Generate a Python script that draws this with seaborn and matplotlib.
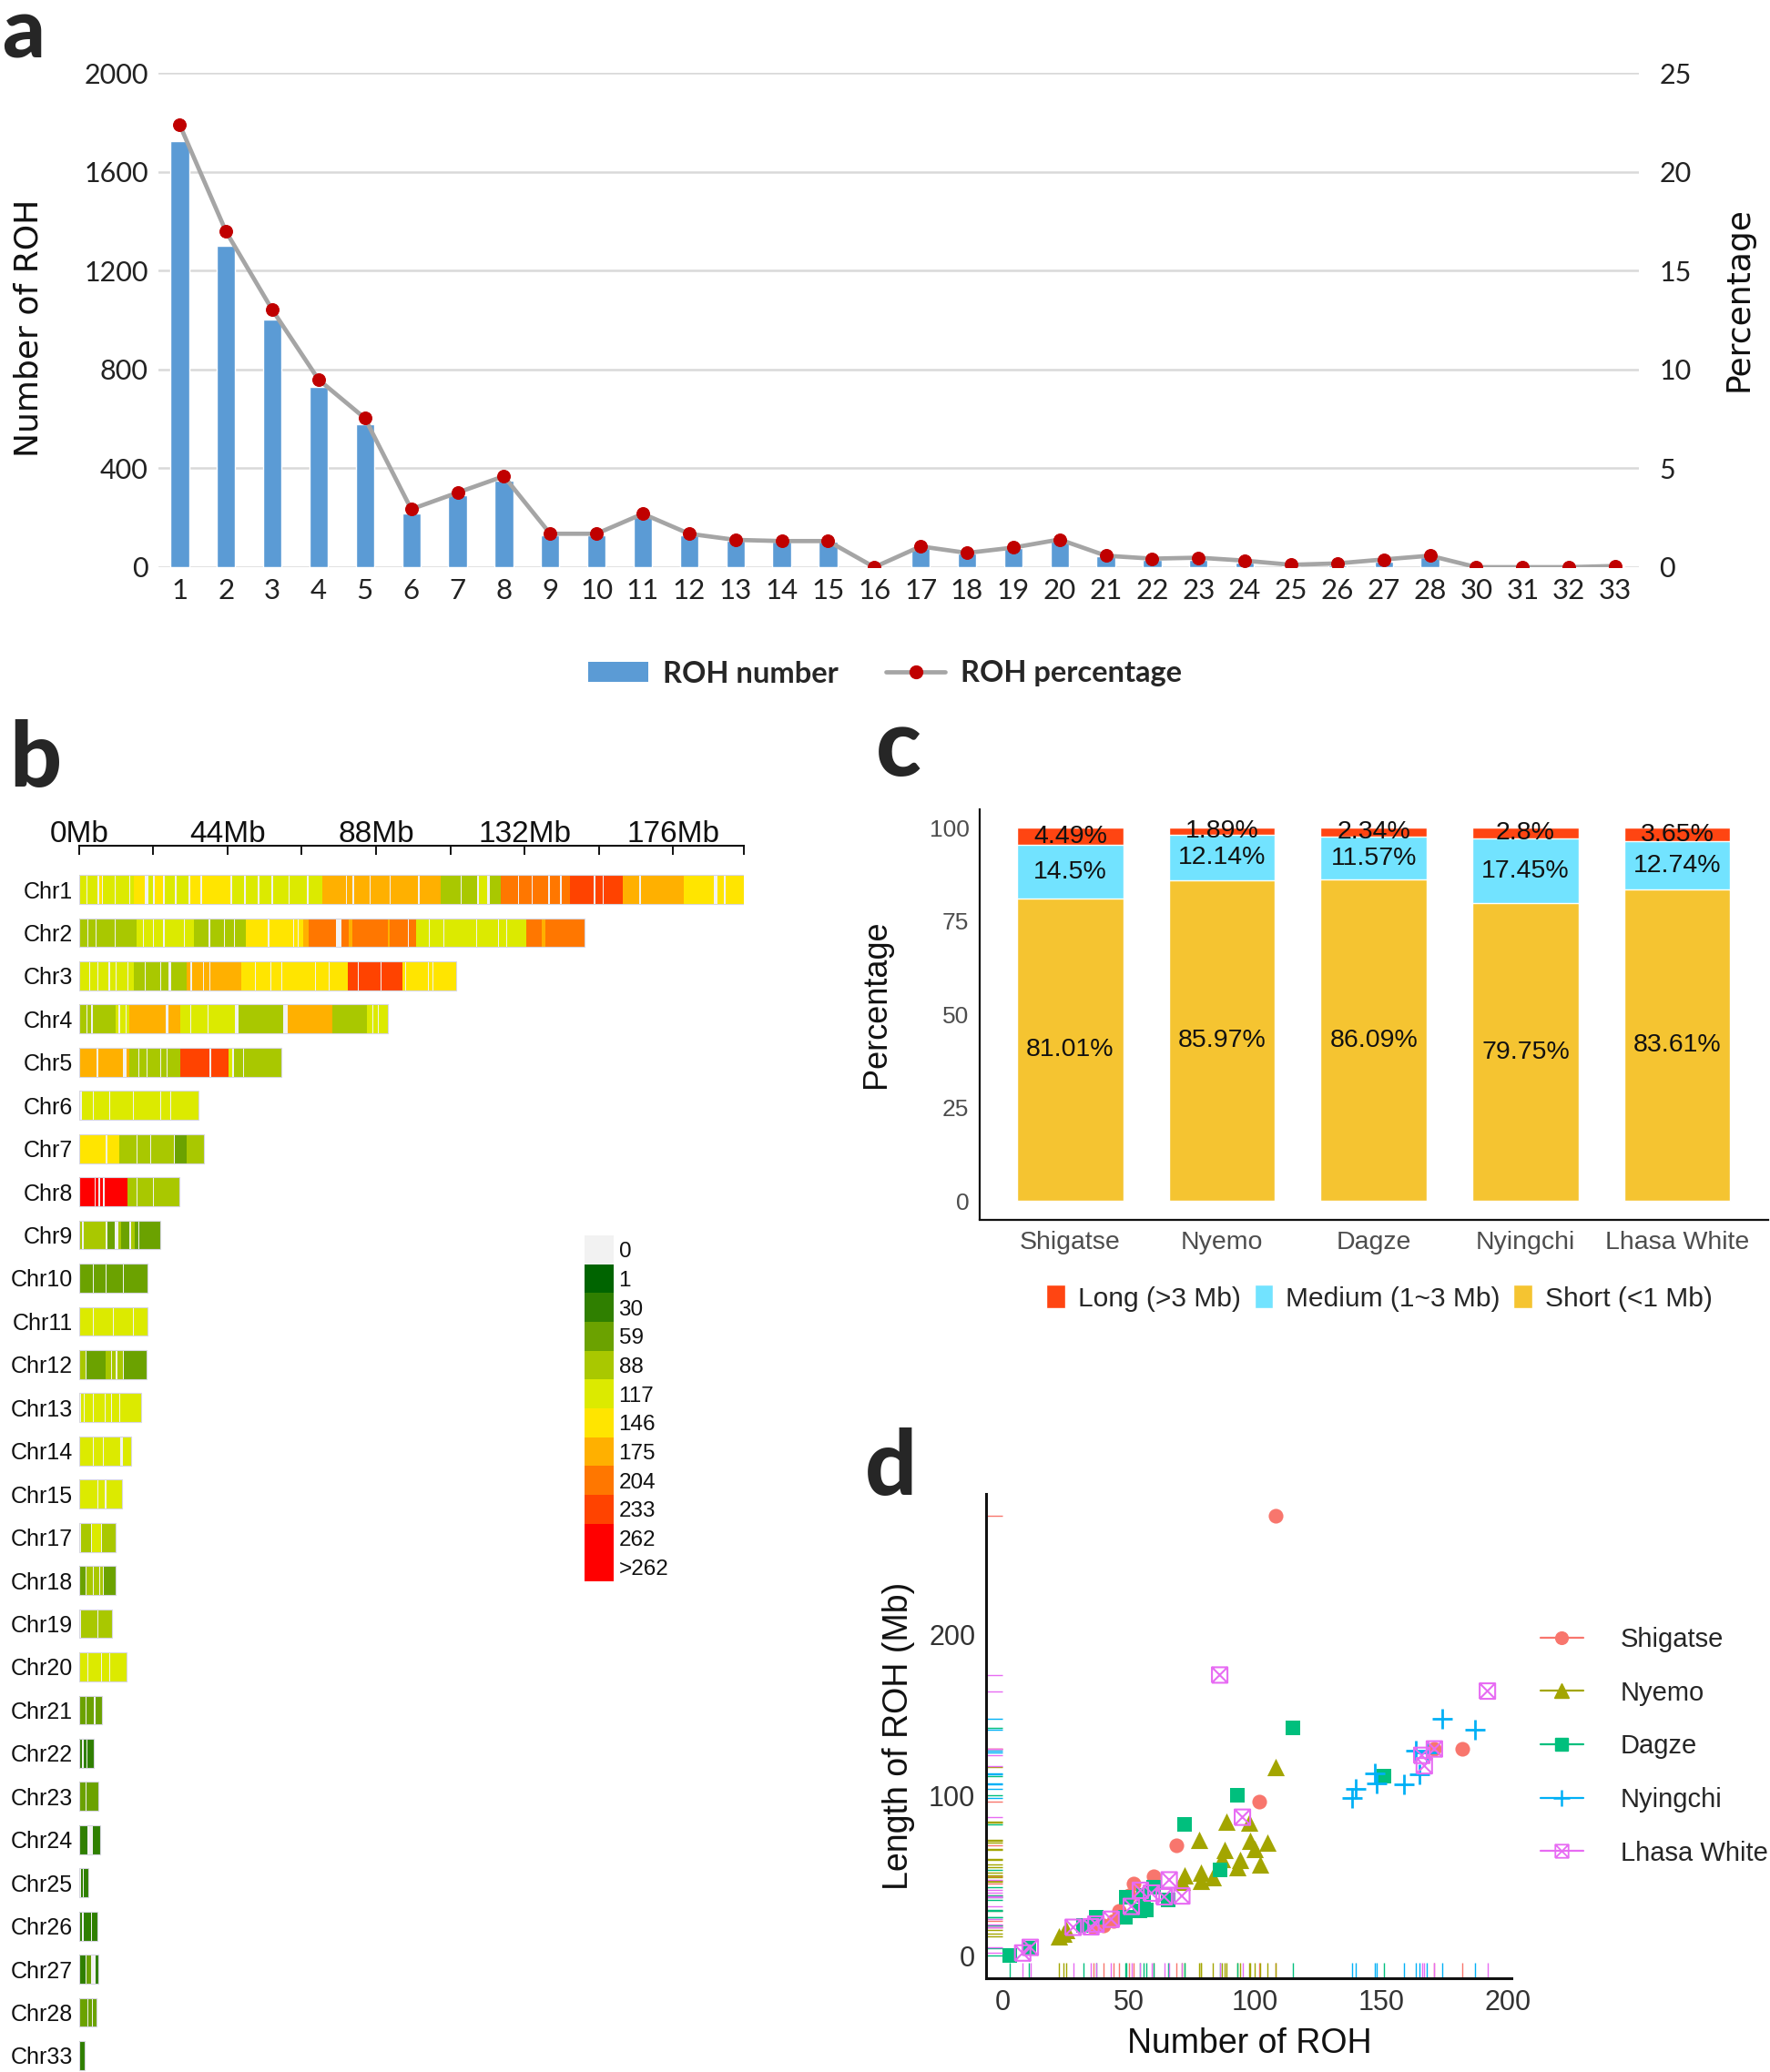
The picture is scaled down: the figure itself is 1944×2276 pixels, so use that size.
import numpy as np
import pandas as pd
import matplotlib
matplotlib.use("Agg")
import matplotlib.pyplot as plt
import seaborn as sns
from matplotlib.colors import ListedColormap
from matplotlib.patches import Patch
from matplotlib.lines import Line2D
from matplotlib.path import Path

# ---------------- data: panel a ----------------
roh_chr = [str(i) for i in range(1, 29)] + ["30", "31", "32", "33"]
roh_count = [1723, 1302, 1002, 730, 580, 219, 292, 350, 130, 130, 203, 130, 107, 102, 102, 0,
             79, 55, 76, 110, 43, 30, 30, 18, 5, 8, 22, 41, 0, 0, 0, 3]
roh_pct = [22.37, 16.97, 13.01, 9.48, 7.53, 2.93, 3.77, 4.60, 1.69, 1.69, 2.70, 1.69, 1.38, 1.32,
           1.32, 0.0, 1.05, 0.72, 0.99, 1.40, 0.58, 0.43, 0.48, 0.33, 0.12, 0.19, 0.39, 0.58,
           0.0, 0.0, 0.0, 0.06]
count_ticks = [0, 400, 800, 1200, 1600, 2000]
pct_ticks = [0, 5, 10, 15, 20, 25]

# ---------------- data: panel b ----------------
chr_names = ["Chr%d" % i for i in list(range(1, 16)) + list(range(17, 29)) + [33]]
chr_len = [197, 149.7, 111.8, 91.5, 60, 35.5, 37, 29.8, 24, 20.3, 20.3, 19.9, 18.3, 15.4, 12.7,
           10.9, 10.9, 9.9, 14.1, 6.9, 4.5, 5.8, 6.2, 2.9, 5.4, 5.7, 5.1, 1.6]
# runs of (end Mb, density level); level 0 = no SNP ... 11 = >262
chr1_runs = [(2.2,5),(2.6,0),(5.5,5),(5.9,0),(6.8,6),(7.2,0),(10.5,5),(10.9,0),(14.8,5),(15.3,0),(16.2,5),
             (19.6,6),(20.6,0),(22.0,5),(22.4,0),(24.8,6),(25.3,0),(28.5,5),(28.9,0),(32.5,5),(32.9,0),
             (36.0,6),(36.4,0),(41.0,6),(44.8,6),(45.3,0),(49.0,5),(49.4,0),(53.0,5),(53.5,0),(57.0,5),
             (57.4,0),(62.0,5),(62.4,0),(67.5,5),(67.9,0),(72.0,5),(79.0,7),(79.4,0),(81.0,7),(81.4,0),
             (86.0,7),(86.4,0),(92.0,7),(92.4,0),(100.5,7),(100.9,0),(107.0,7),(113.0,4),(113.4,0),
             (118.0,4),(118.5,0),(121.0,5),(121.8,0),(125.0,4),(130.0,8),(130.4,0),(134.0,8),(134.4,0),
             (139.0,8),(139.4,0),(142.5,8),(142.9,0),(145.5,8),(152.5,9),(153.0,0),(155.0,9),(155.4,0),
             (161.0,9),(166.0,7),(166.4,0),(179.0,7),(188.0,6),(189.0,0),(191.0,6),(191.4,0),(197.0,6)]
chr2_runs = [(2.4,4),(2.8,0),(4.9,4),(5.3,0),(10.6,4),(11.0,0),(17.0,4),(19.0,5),(19.3,0),(22.0,5),(22.3,0),
             (25.0,5),(25.3,0),(31.0,5),(31.3,0),(34.0,5),(38.5,4),(38.8,0),(43.0,4),(43.3,0),(46.0,4),
             (46.3,0),(49.3,4),(56.0,6),(56.3,0),(63.5,6),(63.8,0),(64.8,6),(65.1,0),(66.3,6),(68.0,7),
             (76.2,8),(77.7,0),(80.0,8),(81.0,7),(85.5,8),(91.5,8),(92.0,7),(97.3,8),(97.8,0),(99.9,8),
             (103.5,5),(103.8,0),(108.0,5),(108.3,0),(117.5,5),(117.8,0),(124.0,5),(124.3,0),(126.5,5),
             (126.8,0),(132.4,5),(137.0,8),(138.0,7),(149.7,8)]
chr3_runs = [(3.0,5),(3.4,0),(5.5,5),(5.8,0),(8.8,5),(9.2,0),(10.8,5),(11.1,0),(14.3,5),(14.6,0),(16.2,5),
             (19.5,4),(19.8,0),(24.0,4),(24.3,0),(26.5,4),(27.3,0),(31.9,4),(33.1,7),(33.5,0),(36.8,7),
             (37.1,0),(38.6,7),(38.9,0),(48.1,7),(52.0,6),(52.3,0),(56.6,6),(56.9,0),(60.0,6),(60.3,0),
             (70.0,6),(70.3,0),(74.0,6),(74.3,0),(79.5,6),(82.6,9),(82.9,0),(89.4,9),(89.7,0),(95.7,9),
             (96.5,6),(96.9,0),(103.3,6),(103.6,0),(104.7,6),(105.0,0),(111.8,6)]
chr4_runs = [(2.2,4),(2.5,0),(3.7,4),(4.0,0),(10.8,4),(11.8,5),(12.1,0),(13.8,5),(14.1,0),(14.8,5),(25.6,7),
             (26.5,0),(30.0,7),(33.0,5),(33.3,0),(38.0,5),(38.3,0),(46.2,5),(47.2,0),(60.5,4),(61.8,0),
             (74.9,7),(85.2,4),(86.8,5),(87.1,0),(88.6,5),(88.9,0),(91.5,5)]
chr5_runs = [(5.3,7),(5.7,0),(13.0,7),(14.0,0),(14.8,7),(17.5,4),(17.8,0),(20.0,4),(20.3,0),(24.0,4),
             (24.3,0),(26.0,4),(26.3,0),(30.0,4),(38.7,9),(39.1,0),(44.3,9),(45.5,5),(46.0,0),(48.5,4),
             (48.8,0),(60.0,4)]
chr6_runs = [(1.0,0),(4.0,5),(4.3,0),(9.0,5),(9.3,0),(16.0,5),(16.3,0),(24.0,5),(24.3,0),(27.0,5),(27.3,0),(35.5,5)]
chr7_runs = [(8.0,6),(8.4,0),(12.0,6),(17.0,4),(17.3,0),(21.0,4),(21.3,0),(28.0,4),(28.3,0),(32.0,3),(37.0,4)]
chr8_runs = [(4.6,10),(5.0,0),(5.8,10),(6.2,0),(7.2,10),(7.6,0),(14.3,10),(17.0,4),(17.3,0),(22.0,4),(22.3,0),(29.8,4)]
chr9_runs = [(1.0,4),(1.4,0),(8.0,4),(8.4,0),(10.5,3),(11.8,0),(12.5,4),(15.0,3),(15.4,0),(16.5,4),(17.5,3),(18.0,0),(24.0,3)]
chr10_runs = [(0.4,0),(4.0,3),(4.3,0),(8.0,3),(8.3,0),(13.0,3),(13.3,0),(20.3,3)]
chr11_runs = [(4.0,5),(4.3,0),(10.0,5),(10.3,0),(16.0,5),(16.3,0),(20.3,5)]
chr12_runs = [(2.0,4),(2.3,0),(8.0,3),(9.5,4),(9.8,0),(11.0,4),(11.3,0),(13.0,4),(13.3,0),(19.9,3)]
chr13_runs = [(0.6,0),(1.5,5),(1.8,0),(4.0,5),(4.3,0),(7.5,5),(7.8,0),(9.5,5),(9.8,0),(12.0,5),(12.3,0),(18.3,5)]
chr14_runs = [(4.0,5),(4.3,0),(7.0,5),(7.3,0),(12.3,5),(13.0,0),(15.4,5)]
chr15_runs = [(5.5,5),(5.8,0),(7.5,5),(8.3,0),(12.7,5)]
chr17_runs = [(0.5,0),(3.5,4),(3.8,0),(6.5,5),(6.8,0),(10.9,4)]
chr18_runs = [(2.0,3),(2.3,0),(4.0,4),(4.3,0),(6.0,4),(6.3,0),(7.0,4),(7.3,0),(10.9,3)]
chr19_runs = [(0.6,0),(5.5,4),(5.8,0),(9.9,4)]
chr20_runs = [(2.5,5),(2.8,0),(6.5,5),(6.8,0),(9.0,5),(9.3,0),(14.1,5)]
chr21_runs = [(2.0,3),(2.3,0),(4.5,3),(4.8,0),(6.9,3)]
chr22_runs = [(1.0,2),(1.3,0),(2.2,2),(2.5,0),(4.5,2)]
chr23_runs = [(2.0,3),(2.2,0),(5.8,3)]
chr24_runs = [(2.5,2),(4.0,0),(6.2,2)]
chr25_runs = [(0.5,0),(1.2,2),(1.5,0),(2.9,2)]
chr26_runs = [(1.0,2),(1.3,0),(3.5,2),(3.8,0),(5.4,2)]
chr27_runs = [(2.0,2),(2.3,0),(3.5,3),(4.8,0),(5.7,2)]
chr28_runs = [(2.5,3),(2.8,0),(3.8,3),(4.1,0),(5.1,3)]
chr33_runs = [(1.6,2)]
chr_runs = [chr1_runs, chr2_runs, chr3_runs, chr4_runs, chr5_runs, chr6_runs, chr7_runs, chr8_runs,
            chr9_runs, chr10_runs, chr11_runs, chr12_runs, chr13_runs, chr14_runs, chr15_runs,
            chr17_runs, chr18_runs, chr19_runs, chr20_runs, chr21_runs, chr22_runs, chr23_runs,
            chr24_runs, chr25_runs, chr26_runs, chr27_runs, chr28_runs, chr33_runs]
density_labels = ["0", "1", "30", "59", "88", "117", "146", "175", "204", "233", "262", ">262"]
density_colors = ["#F2F2F2", "#006400", "#2F7F00", "#6BA200", "#A9C800", "#DCEA00", "#FFE500",
                  "#FFB000", "#FF7700", "#FF4300", "#FF0000", "#FF0000"]
mb_ticks = [0, 22, 44, 66, 88, 110, 132, 154, 176, 197]
mb_labels = ["0Mb", "", "44Mb", "", "88Mb", "", "132Mb", "", "176Mb", ""]

# ---------------- data: panel c ----------------
breeds = ["Shigatse", "Nyemo", "Dagze", "Nyingchi", "Lhasa White"]
short_pct = [81.01, 85.97, 86.09, 79.75, 83.61]
medium_pct = [14.5, 12.14, 11.57, 17.45, 12.74]
long_pct = [4.49, 1.89, 2.34, 2.8, 3.65]

# ---------------- data: panel d ----------------
shig_n = [108, 101.5, 69, 60, 52, 50, 46, 44, 40, 36, 182, 171]
shig_len = [274, 96, 69, 50, 45, 38, 28, 22, 19, 18, 129, 129]
nyemo_n = [108, 88.5, 97.8, 77.8, 98, 105, 100, 88, 87, 102, 93, 94, 72, 78.6, 71, 78.6, 83.4, 22.3, 25.3, 24]
nyemo_len = [117.5, 84, 83, 72.5, 71.6, 70.6, 67, 66.3, 60.3, 57, 55.6, 60, 50.5, 51.8, 46.2, 47, 49, 12.4, 16.2, 14]
dagze_n = [115, 93, 72, 151, 86, 60, 49, 48.7, 54.6, 57, 65.7, 56, 37, 32, 10.3, 2.8]
dagze_len = [142, 100, 82, 112, 54, 43, 37, 24, 28, 29, 35, 38, 24, 19, 5, 0.6]
nying_n = [174, 187, 163.5, 168, 147.4, 148, 159, 165, 140, 138.5]
nying_len = [148, 141, 128, 127, 114, 107.5, 107, 113, 104, 98.5]
lhasa_n = [86, 192, 171, 166, 167, 95, 66, 71, 64, 59, 54.6, 51, 43, 37, 35, 28, 11, 8]
lhasa_len = [175, 165, 129, 125, 118.5, 86.5, 47.5, 37.5, 37, 39.3, 41, 31, 23, 20, 18.3, 18, 5.5, 2]
pops = ["Shigatse", "Nyemo", "Dagze", "Nyingchi", "Lhasa White"]
pop_colors = ["#F8766D", "#A3A500", "#00BF7D", "#00B0F6", "#E76BF3"]

# ---------------- figure ----------------
sns.set_theme(style="white")
plt.rcParams["font.family"] = ["Liberation Sans", "DejaVu Sans"]
W, H = 1944, 2276
fig = plt.figure(figsize=(W / 100, H / 100), dpi=100)


def fx(p):
    return p / W


def fy(p):
    return 1 - p / H


def rect(l, t, r, b):
    return [l / W, 1 - b / H, (r - l) / W, (b - t) / H]


# ======== panel a ========
axA = fig.add_axes(rect(174, 80, 1800, 623))
dfa = pd.DataFrame({"chr": roh_chr, "count": roh_count, "pct": roh_pct})
sns.barplot(data=dfa, x="chr", y="count", color="#5B9BD5", saturation=1, width=0.4,
            errorbar=None, ax=axA, zorder=2)
axA.set_ylim(0, 2000)
axA.set_yticks(count_ticks)
axA.set_xlim(-0.46, len(roh_chr) - 0.49)
axA.grid(axis="y", color="#D9D9D9", lw=1.8)
axA.grid(axis="x", visible=False)
axA.set_axisbelow(True)
for s in axA.spines.values():
    s.set_visible(False)
axA.tick_params(axis="y", length=0, labelsize=22, pad=8, labelcolor="#222222")
axA.tick_params(axis="x", length=0, labelsize=22.5, pad=9, labelcolor="#222222")
axA.set_xlabel("")
axA.set_ylabel("")
for lab in axA.get_xticklabels() + axA.get_yticklabels():
    lab.set_fontfamily("Lato")

axA2 = axA.twinx()
sns.lineplot(x=np.arange(len(roh_pct)), y=roh_pct, ax=axA2, color="#A5A5A5", lw=3.4,
             marker="o", markersize=10, markerfacecolor="#C00000", markeredgecolor="#C00000")
axA2.set_ylim(0, 25)
axA2.set_yticks(pct_ticks)
axA2.grid(False)
for s in axA2.spines.values():
    s.set_visible(False)
axA2.tick_params(axis="y", length=0, labelsize=22, pad=16, labelcolor="#222222")
for lab in axA2.get_yticklabels():
    lab.set_fontfamily("Lato")

fig.text(fx(32), fy(360), "Number of ROH", rotation=90, ha="center", va="center",
         fontsize=26, family="DejaVu Sans", color="#111111")
fig.text(fx(1909), fy(329), "Percentage", rotation=90, ha="center", va="center",
         fontsize=26, family="DejaVu Sans", color="#111111")

legA_handles = [Patch(facecolor="#5B9BD5", edgecolor="none"),
                Line2D([0], [0], color="#A5A5A5", lw=3.4, marker="o", markersize=10,
                       markerfacecolor="#C00000", markeredgecolor="#C00000")]
fig.legend(legA_handles, ["ROH number", "ROH percentage"], loc="center",
           bbox_to_anchor=(0.5, fy(740)), ncol=2, frameon=False,
           prop={"family": "Lato", "weight": "bold", "size": 23.5},
           handlelength=2.0, handleheight=0.65, handletextpad=0.5, columnspacing=1.6)

fig.text(fx(2), fy(64), "a", fontsize=66, fontweight="black", family="Lato", va="baseline")

# ======== panel b ========
mb_px = 3.709
axB = fig.add_axes(rect(86.7, 929, 86.7 + 197 * mb_px, 2276))
for i, runs in enumerate(chr_runs):
    start = 0.0
    lefts, widths, cols = [], [], []
    for end, lvl in runs:
        lefts.append(start)
        widths.append(end - start)
        cols.append(density_colors[lvl])
        start = end
    axB.barh([i] * len(lefts), widths, left=lefts, height=0.67, color=cols, linewidth=0)
axB.barh(np.arange(len(chr_len)), chr_len, height=0.67, fill=False, edgecolor="#D6D6E0", linewidth=0.8)
axB.set_xlim(0, 197)
axB.set_ylim(27.38, -1.012)
axB.set_yticks(np.arange(len(chr_names)))
axB.set_yticklabels(chr_names)
axB.set_xticks(mb_ticks)
axB.set_xticklabels(mb_labels)
axB.xaxis.tick_top()
for k in ["left", "right", "bottom"]:
    axB.spines[k].set_visible(False)
axB.spines["top"].set_color("#111111")
axB.spines["top"].set_linewidth(1.5)
axB.tick_params(axis="x", direction="in", length=7, width=1.4, color="#111111", pad=-2,
                labelsize=24, labelcolor="#111111")
axB.tick_params(axis="y", length=0, pad=5, labelsize=18, labelcolor="#111111")
axB.grid(False)

axL = fig.add_axes(rect(642, 1357, 674, 1737))
sns.heatmap(np.arange(len(density_labels)).reshape(-1, 1), cmap=ListedColormap(density_colors),
            vmin=-0.5, vmax=len(density_labels) - 0.5, cbar=False, xticklabels=False,
            yticklabels=density_labels, ax=axL)
axL.yaxis.tick_right()
axL.tick_params(axis="y", length=0, pad=4, labelsize=17.5, labelrotation=0, labelcolor="#111111")

fig.text(fx(10), fy(864), "b", fontsize=72, fontweight="black", family="Lato", va="baseline")

# ======== panel c ========
axC = fig.add_axes(rect(1075.5, 889, 1942, 1339.5))
short_a = np.array(short_pct)
med_a = np.array(medium_pct)
long_a = np.array(long_pct)
sns.barplot(x=breeds, y=short_a + med_a + long_a, color="#FF4512", saturation=1, width=0.7, ax=axC)
sns.barplot(x=breeds, y=short_a + med_a, color="#72E3FF", saturation=1, width=0.7, ax=axC)
sns.barplot(x=breeds, y=short_a, color="#F5C431", saturation=1, width=0.7, ax=axC)
for i in range(len(breeds)):
    axC.text(i, short_a[i] / 2, "%g%%" % short_pct[i], ha="center", va="center", fontsize=20.5, color="#111111")
    axC.text(i, short_a[i] + med_a[i] / 2, "%g%%" % medium_pct[i], ha="center", va="center", fontsize=20.5, color="#111111")
    axC.text(i, short_a[i] + med_a[i] + long_a[i] / 2, "%g%%" % long_pct[i], ha="center", va="center",
             fontsize=20.5, color="#111111")
axC.set_ylim(-5, 105)
axC.set_xlim(-0.6, len(breeds) - 0.4)
axC.set_yticks([0, 25, 50, 75, 100])
axC.set_xlabel("")
axC.set_ylabel("")
for k in ["top", "right"]:
    axC.spines[k].set_visible(False)
for k in ["left", "bottom"]:
    axC.spines[k].set_color("#111111")
    axC.spines[k].set_linewidth(1.6)
axC.tick_params(axis="both", length=5, width=1.2, color="#333333", labelcolor="#4D4D4D", labelsize=19)
axC.tick_params(axis="x", labelsize=20.5, pad=4)
axC.tick_params(axis="y", pad=3)
axC.grid(False)
fig.text(fx(962), fy(1103), "Percentage", rotation=90, ha="center", va="center", fontsize=26, color="#111111")
legC_handles = [Patch(facecolor="#FF4512"), Patch(facecolor="#72E3FF"), Patch(facecolor="#F5C431")]
fig.legend(legC_handles, ["Long (>3 Mb)", "Medium (1~3 Mb)", "Short (<1 Mb)"], loc="center",
           bbox_to_anchor=(fx(1515), fy(1426)), ncol=3, frameon=False, fontsize=21.5,
           handlelength=0.7, handleheight=0.95, handletextpad=0.45, columnspacing=0.5)
fig.text(fx(962), fy(852), "c", fontsize=74, fontweight="black", family="Lato", va="baseline")

# ======== panel d ========
axD = fig.add_axes(rect(1083, 1641, 1660, 2173))
boxx = Path([(-1, -1), (1, -1), (1, 1), (-1, 1), (-1, -1), (-1, -1), (1, 1), (-1, 1), (1, -1)],
            [Path.MOVETO, Path.LINETO, Path.LINETO, Path.LINETO, Path.LINETO,
             Path.MOVETO, Path.LINETO, Path.MOVETO, Path.LINETO])
pop_n = [shig_n, nyemo_n, dagze_n, nying_n, lhasa_n]
pop_len = [shig_len, nyemo_len, dagze_len, nying_len, lhasa_len]
dfd = pd.concat([pd.DataFrame({"n": n, "len": l, "pop": p}) for n, l, p in zip(pop_n, pop_len, pops)],
                ignore_index=True)
pal = dict(zip(pops, pop_colors))
sns.rugplot(data=dfd, x="n", hue="pop", hue_order=pops, palette=pal, height=0.032, lw=2.4,
            expand_margins=False, legend=False, ax=axD)
sns.rugplot(data=dfd, y="len", hue="pop", hue_order=pops, palette=pal, height=0.032, lw=2.4,
            expand_margins=False, legend=False, ax=axD)
mk_specs = {"Shigatse": dict(marker="o", s=135, linewidth=0),
            "Nyemo": dict(marker="^", s=190, linewidth=0),
            "Dagze": dict(marker="s", s=125, linewidth=0),
            "Nyingchi": dict(marker="+", s=240, linewidth=2.0),
            "Lhasa White": dict(marker=boxx, s=150, linewidth=1.5, facecolor="none")}
for p in pops:
    sub = dfd[dfd["pop"] == p]
    kw = dict(mk_specs[p])
    if p == "Lhasa White":
        sns.scatterplot(data=sub, x="n", y="len", color=pal[p], edgecolor=pal[p], ax=axD, legend=False, **kw)
    else:
        sns.scatterplot(data=sub, x="n", y="len", color=pal[p], ax=axD, legend=False, **kw)
axD.set_xlim(-6.5, 201.5)
axD.set_ylim(-13.7, 287.7)
axD.set_xticks([0, 50, 100, 150, 200])
axD.set_yticks([0, 100, 200])
axD.set_xlabel("")
axD.set_ylabel("")
for k in ["top", "right"]:
    axD.spines[k].set_visible(False)
for k in ["left", "bottom"]:
    axD.spines[k].set_color("#111111")
    axD.spines[k].set_linewidth(2.2)
axD.tick_params(axis="both", length=5, width=1.6, color="#111111", labelcolor="#333333", labelsize=22)
axD.grid(False)
fig.text(fx(1372), fy(2245), "Number of ROH", ha="center", va="center", fontsize=27, color="#111111")
fig.text(fx(987), fy(1907), "Length of ROH (Mb)", rotation=90, ha="center", va="center", fontsize=27,
         color="#111111")
legD_handles = []
for p in pops:
    kw = mk_specs[p]
    ms = np.sqrt(kw["s"]) * 0.85
    if p == "Lhasa White":
        h = Line2D([0], [0], color=pal[p], lw=1.6, marker=boxx, markersize=ms, markerfacecolor="none",
                   markeredgecolor=pal[p], markeredgewidth=1.3)
    elif p == "Nyingchi":
        h = Line2D([0], [0], color=pal[p], lw=1.6, marker="+", markersize=ms, markeredgewidth=1.8)
    else:
        h = Line2D([0], [0], color=pal[p], lw=1.6, marker=kw["marker"], markersize=ms,
                   markerfacecolor=pal[p], markeredgecolor=pal[p])
    legD_handles.append(h)
fig.legend(legD_handles, pops, loc="upper left", bbox_to_anchor=(fx(1692), fy(1787)), frameon=False,
           fontsize=21, labelspacing=1.05, handlelength=1.6, handletextpad=1.4, borderaxespad=0,
           borderpad=0)
fig.text(fx(950), fy(1642), "d", fontsize=72, fontweight="black", family="Lato", va="baseline")

fig.savefig("out.png", dpi=100)
